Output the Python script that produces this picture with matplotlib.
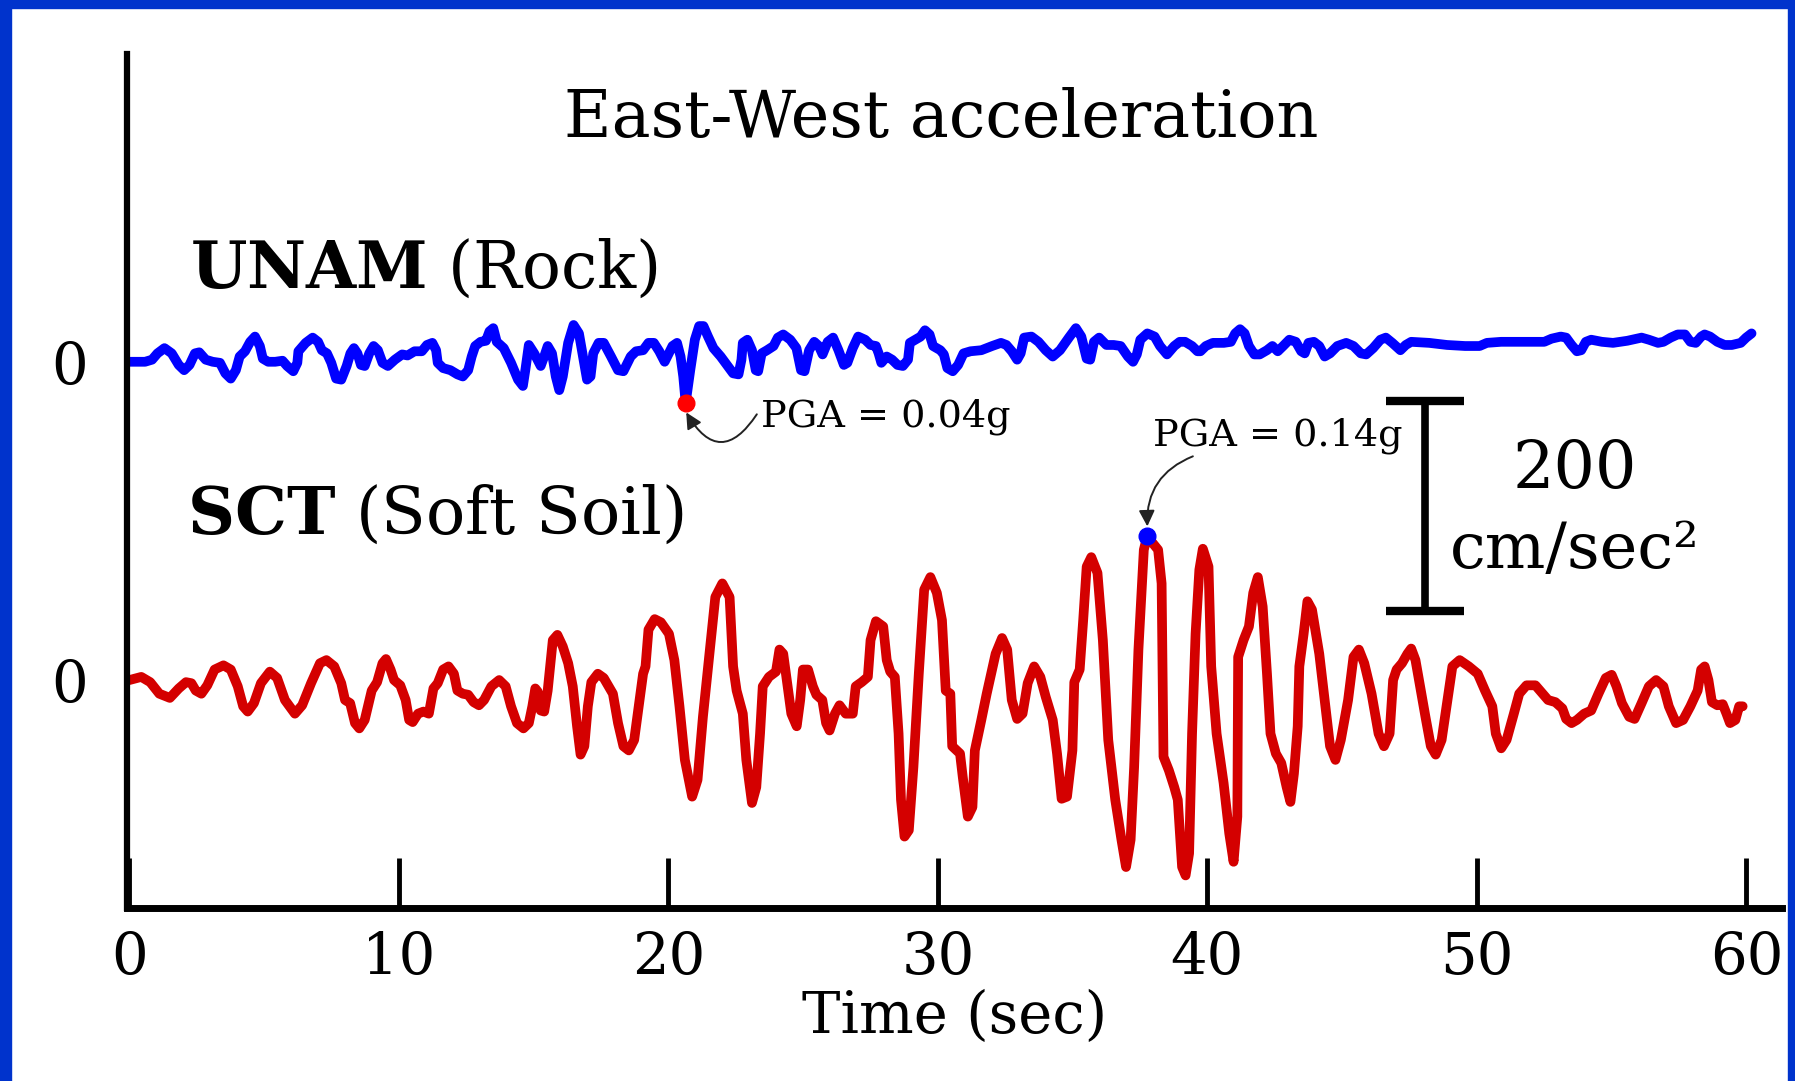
import numpy as np
import matplotlib.pyplot as plt
from matplotlib.patches import Rectangle

plt.rcParams['font.family'] = 'DejaVu Serif'
plt.rcParams['mathtext.fontset'] = 'dejavuserif'

G = 981.0          # cm/sec^2 per g
ROCK_SHIFT = 303   # vertical offset of the UNAM trace, cm/sec^2
SCALE_BAR = 200    # cm/sec^2

# UNAM (rock) east-west acceleration: time (sec), acceleration (cm/sec^2)
rock_t = [0.0, 0.58, 0.84, 1.04, 1.30, 1.57, 1.83, 2.03, 2.23, 2.43,
          2.59, 2.83, 3.09, 3.36, 3.56, 3.76, 3.95, 4.09, 4.29, 4.48,
          4.66, 4.84, 4.95, 5.15, 5.41, 5.68, 5.85, 6.08, 6.23, 6.27,
          6.54, 6.80, 7.00, 7.14, 7.33, 7.49, 7.67, 7.86, 8.06, 8.20,
          8.33, 8.46, 8.59, 8.73, 8.90, 9.06, 9.22, 9.39, 9.59, 9.85,
          10.12, 10.32, 10.58, 10.85, 11.04, 11.24, 11.38, 11.44, 11.64, 11.91,
          12.17, 12.37, 12.57, 12.70, 12.83, 13.03, 13.23, 13.36, 13.50, 13.63,
          13.89, 14.16, 14.42, 14.60, 14.69, 14.82, 15.02, 15.26, 15.39, 15.52,
          15.68, 15.82, 15.95, 16.08, 16.28, 16.48, 16.68, 16.85, 16.98, 17.11,
          17.21, 17.41, 17.60, 17.87, 18.13, 18.33, 18.60, 18.80, 19.06, 19.26,
          19.46, 19.66, 19.86,
          20.15, 20.32, 20.45, 20.55, 20.64, 20.81, 20.98, 21.14, 21.30, 21.47,
          21.67, 21.94, 22.20, 22.40, 22.60, 22.71, 22.76, 22.93, 23.10, 23.24,
          23.33, 23.46, 23.66, 23.90, 24.06, 24.26, 24.52, 24.75, 24.92, 25.05,
          25.22, 25.41, 25.58, 25.72, 25.91, 26.11, 26.31, 26.51, 26.64, 26.84,
          27.04, 27.30, 27.50, 27.70, 27.80, 27.90, 28.10, 28.30, 28.50, 28.70,
          28.89, 28.96, 29.16, 29.36, 29.52, 29.69, 29.82, 30.09, 30.22, 30.35,
          30.55, 30.75, 30.95, 31.21, 31.61, 32.01, 32.34, 32.54, 32.74, 32.94,
          33.07, 33.20, 33.47, 33.73, 34.00, 34.26, 34.53, 34.86, 35.12, 35.32,
          35.52, 35.65, 35.79, 35.98, 36.25, 36.52, 36.78, 37.05, 37.24, 37.38,
          37.51, 37.77, 38.04, 38.24, 38.50, 38.77, 38.97, 39.17, 39.43, 39.63,
          39.74, 39.94, 40.20, 40.61, 40.87, 41.03, 41.21, 41.38, 41.54, 41.74,
          41.94, 42.21, 42.41, 42.61, 42.81, 43.04, 43.28, 43.48, 43.61, 43.75,
          43.95, 44.15, 44.35, 44.55, 44.82, 45.15, 45.42, 45.69, 45.89, 46.15,
          46.42, 46.62, 46.86, 47.16, 47.36, 47.56, 48.23, 48.89, 49.56, 50.10,
          50.37, 50.90, 51.57, 52.50, 52.77, 53.11, 53.31, 53.51, 53.71, 53.87,
          54.04, 54.24, 54.64, 55.05, 55.58, 56.11, 56.38, 56.72, 56.92, 57.19,
          57.45, 57.72, 57.92, 58.12, 58.32, 58.45, 58.65, 58.92, 59.19, 59.46,
          59.79, 59.99, 60.19]
rock_acc = [0, 0, 2, 8, 13, 8, -3, -8, -3, 8,
            9, 2, 0, -1, -11, -16, -8, 5, 10, 19,
            24, 15, 3, 0, 0, 1, -4, -9, -1, 10,
            18, 23, 19, 11, 8, -1, -16, -17, -4, 8,
            13, 8, -3, -4, 8, 15, 11, -1, -4, 2,
            7, 6, 10, 10, 16, 18, 11, -1, -6, -8,
            -12, -14, -8, 5, 15, 19, 20, 29, 32, 19,
            13, -1, -17, -23, -8, 16, 8, -4, 5, 15,
            8, -14, -27, -14, 18, 35, 27, 2, -17, -14,
            8, 18, 18, 5, -8, -9, 5, 10, 11, 18,
            18, 10, 0,
            15, 18, 5, -14, -39.2, -8, 21, 34, 34, 24,
            13, 5, -4, -11, -12, 2, 18, 21, 11, -8,
            -9, 8, 11, 15, 23, 26, 21, 13, -8, -9,
            11, 19, 15, 7, 19, 23, 11, -3, -1, 13,
            24, 21, 16, 15, 8, -1, 5, 2, -3, -4,
            2, 18, 21, 24, 30, 26, 15, 11, 7, -6,
            -9, -3, 8, 10, 11, 15, 18, 16, 10, 2,
            8, 23, 24, 19, 11, 5, 11, 23, 32, 24,
            3, 2, 19, 23, 16, 16, 15, 5, 0, 7,
            21, 27, 24, 15, 7, 15, 19, 19, 15, 10,
            10, 15, 18, 18, 19, 27, 31, 27, 15, 7,
            7, 11, 15, 10, 15, 21, 19, 10, 8, 18,
            19, 15, 5, 8, 15, 18, 15, 8, 7, 13,
            21, 23, 18, 11, 16, 19, 18, 16, 15, 15,
            18, 19, 19, 19, 22, 24, 23, 16, 10, 11,
            19, 21, 19, 18, 20, 23, 21, 18, 19, 23,
            26, 26, 19, 18, 24, 26, 24, 19, 16, 16,
            18, 23, 27]

# SCT (soft soil) east-west acceleration: time (sec), acceleration (cm/sec^2)
soil_t = [0.0, 0.44, 0.77, 1.11, 1.50, 1.83, 2.10, 2.30, 2.46, 2.67,
          2.89, 3.16, 3.49, 3.76, 4.02, 4.22, 4.39, 4.62, 4.88, 5.21,
          5.48, 5.77, 6.14, 6.41, 6.74, 7.07, 7.31, 7.60, 7.86, 8.00,
          8.19, 8.37, 8.53, 8.73, 8.99, 9.19, 9.39, 9.52, 9.69, 9.82,
          10.05, 10.25, 10.38, 10.51, 10.71, 10.91, 11.11, 11.28, 11.44, 11.64,
          11.84, 12.04, 12.17, 12.37, 12.57, 12.77, 12.97, 13.16, 13.43, 13.72,
          13.96, 14.16, 14.38, 14.62, 14.82, 14.95, 15.06, 15.15, 15.26, 15.39,
          15.52, 15.71, 15.88, 16.08, 16.28, 16.45, 16.61, 16.74, 16.88, 17.01,
          17.14, 17.38, 17.60, 17.94, 18.13, 18.33, 18.53, 18.73, 18.93, 19.06,
          19.15, 19.26, 19.49, 19.72,
          20.02, 20.22, 20.41, 20.61, 20.88, 21.08, 21.28, 21.54, 21.74, 22.00,
          22.27, 22.40, 22.53, 22.76, 22.89, 23.10, 23.26, 23.40, 23.50, 23.73,
          23.99, 24.12, 24.26, 24.39, 24.56, 24.76, 24.89, 24.99, 25.18, 25.36,
          25.49, 25.71, 25.85, 25.98, 26.18, 26.35, 26.58, 26.84, 26.95, 27.17,
          27.40, 27.50, 27.70, 27.97, 28.10, 28.23, 28.40, 28.54, 28.63, 28.76,
          28.92, 29.09, 29.29, 29.49, 29.72, 29.96, 30.15, 30.29, 30.46, 30.53,
          30.82, 30.92, 31.11, 31.28, 31.37, 31.61, 31.81, 32.14, 32.38, 32.57,
          32.74, 32.94, 33.14, 33.33, 33.57, 33.80, 34.00, 34.26, 34.42, 34.59,
          34.79, 34.99, 35.06, 35.26, 35.39, 35.52, 35.69, 35.92, 36.12, 36.32,
          36.58, 36.81, 36.98, 37.15, 37.28, 37.44, 37.64, 37.77, 37.95, 38.17,
          38.30, 38.37, 38.57, 38.77, 38.90, 39.06, 39.19, 39.32, 39.43, 39.56,
          39.70, 39.83,
          40.04, 40.14, 40.34, 40.60, 40.81, 40.97, 41.11, 41.14, 41.34, 41.54,
          41.70, 41.87, 42.05, 42.21, 42.34, 42.54, 42.74, 42.94, 43.08, 43.21,
          43.35, 43.41, 43.57, 43.71, 43.88, 44.15, 44.35, 44.55, 44.75, 44.95,
          45.22, 45.42, 45.62, 45.82, 46.09, 46.35, 46.55, 46.76, 46.89, 47.02,
          47.22, 47.42, 47.56, 47.72, 47.89, 48.09, 48.29, 48.47, 48.69, 48.89,
          49.09, 49.36, 49.70, 50.03, 50.30, 50.57, 50.70, 50.90, 51.10, 51.37,
          51.57, 51.84, 52.17, 52.44, 52.64, 52.91, 53.17, 53.31, 53.51, 53.71,
          53.98, 54.24, 54.51, 54.78, 55.00, 55.18, 55.38, 55.65, 55.85, 56.11,
          56.38, 56.65, 56.92, 57.12, 57.39, 57.65, 57.92, 58.19, 58.32, 58.45,
          58.59, 58.72, 58.92, 59.12, 59.26, 59.39, 59.59, 59.73, 59.86]
soil_acc = [0, 3, -2, -13, -17, -8, -2, -3, -10, -13,
            -5, 10, 14, 10, -6, -25, -30, -22, -3, 8,
            2, -19, -32, -24, -3, 16, 19, 13, -3, -19,
            -22, -41, -46, -38, -10, -2, 16, 20, 10, 0,
            -5, -19, -38, -40, -32, -30, -32, -8, -3, 10,
            13, 6, -10, -13, -14, -21, -24, -19, -6, 0,
            -6, -25, -41, -46, -41, -25, -8, -11, -29, -30,
            -10, 38, 43, 32, 16, -6, -44, -71, -63, -25,
            -2, 6, 2, -13, -41, -63, -67, -57, -19, 6,
            13, 48, 58, 55,
            44, 19, -25, -76, -111, -95, -35, 29, 79, 92,
            79, 13, -10, -32, -76, -117, -102, -51, -6, 3,
            8, 29, 25, 0, -32, -44, -19, 10, 10, -6,
            -14, -19, -41, -48, -32, -24, -32, -32, -6, -2,
            3, 38, 56, 51, 19, 8, 3, -51, -114, -149,
            -143, -83, 6, 86, 98, 83, 57, -10, -13, -63,
            -70, -92, -130, -121, -67, -38, -13, 25, 40, 29,
            -19, -37, -32, -3, 13, 3, -16, -38, -70, -113,
            -111, -67, -2, 10, 57, 108, 117, 102, 38, -57,
            -114, -152, -178, -152, -83, 29, 124, 137.3, 131, 124,
            92, -73, -86, -102, -114, -178, -186, -165, -51, 44,
            105, 125,
            108, 13, -51, -98, -146, -173, -130, 22, 38, 51,
            83, 98, 70, 6, -51, -70, -79, -102, -116, -89,
            -44, 13, 44, 75, 67, 25, -19, -63, -76, -57,
            -19, 22, 29, 16, -13, -51, -63, -51, 0, 10,
            16, 25, 30, 19, -6, -35, -63, -71, -57, -22,
            13, 19, 13, 6, -10, -25, -51, -65, -57, -32,
            -13, -5, -5, -13, -19, -21, -27, -37, -41, -38,
            -32, -29, -13, 2, 5, -6, -22, -35, -37, -22,
            -6, 0, -6, -25, -41, -38, -25, -10, 10, 13,
            0, -21, -24, -23, -32, -41, -38, -25, -25]

rock_pga = 0.04
soil_pga = 0.14
xticks = [0, 10, 20, 30, 40, 50, 60]

rock_t = np.array(rock_t)
rock_acc = np.array(rock_acc)
soil_t = np.array(soil_t)
soil_acc = np.array(soil_acc)

W, H = 1795, 1081
fig = plt.figure(figsize=(W / 100, H / 100), dpi=100)
fig.patch.set_facecolor('white')

# blue frame around the slide
frame = '#0033cc'
fig.add_artist(Rectangle((0, 0), 11 / W, 1, transform=fig.transFigure, color=frame))
fig.add_artist(Rectangle((0, 1 - 8 / H), 1, 8 / H, transform=fig.transFigure, color=frame))
fig.add_artist(Rectangle((1 - 7 / W, 0), 7 / W, 1, transform=fig.transFigure, color=frame))

ax = fig.add_axes([127 / W, 173 / H, 1655 / W, 854 / H])
ax.set_xlim(-0.09, 61.32)
ax.set_ylim(-217, 596)

ax.plot(rock_t, rock_acc + ROCK_SHIFT, color='#0000ff', lw=7,
        solid_joinstyle='round', solid_capstyle='round')
ax.plot(soil_t, soil_acc, color='#d40000', lw=7,
        solid_joinstyle='round', solid_capstyle='round')

# PGA markers
i_r = np.argmin(rock_acc)
i_s = np.argmax(soil_acc)
ax.plot(rock_t[i_r], rock_acc[i_r] + ROCK_SHIFT, 'o', color='#ff0000', ms=12, zorder=5)
ax.plot(soil_t[i_s], soil_acc[i_s], 'o', color='#0000ff', ms=12, zorder=5)

ax.text(23.45, 241, f'PGA = {rock_pga:.2f}g', fontsize=27.5, va='baseline')
ax.annotate('', xy=(rock_t[i_r] + 0.02, rock_acc[i_r] + ROCK_SHIFT - 9),
            xytext=(23.28, 253),
            arrowprops=dict(arrowstyle='-|>', color='#222222', lw=1.4,
                            mutation_scale=24, shrinkA=0, shrinkB=0,
                            connectionstyle='arc3,rad=-0.8'))

ax.text(37.98, 223, f'PGA = {soil_pga:.2f}g', fontsize=27.5, va='baseline')
ax.annotate('', xy=(soil_t[i_s], soil_acc[i_s] + 9),
            xytext=(39.46, 213),
            arrowprops=dict(arrowstyle='-|>', color='#222222', lw=1.4,
                            mutation_scale=24, shrinkA=0, shrinkB=0,
                            connectionstyle='arc3,rad=0.35'))

# 200 cm/sec^2 scale bar
bar_t, bar_lo = 48.07, 66
ax.errorbar([bar_t], [bar_lo + SCALE_BAR / 2], yerr=SCALE_BAR / 2, fmt='none',
            ecolor='black', elinewidth=5.5, capsize=28, capthick=6)
ax.text(53.64, 183, f'{SCALE_BAR}', fontsize=47, ha='center', va='baseline')
ax.text(53.64, 107, 'cm/sec²', fontsize=46, ha='center', va='baseline')

# station labels and heading
ax.text(2.25, 373, r'$\mathbf{UNAM}$ (Rock)', fontsize=46.5, va='baseline')
ax.text(2.13, 139, r'$\mathbf{SCT}$ (Soft Soil)', fontsize=47, va='baseline')
ax.text(0.492, 0.903, 'East-West acceleration', transform=ax.transAxes,
        fontsize=47, ha='center', va='baseline')

ax.spines['top'].set_visible(False)
ax.spines['right'].set_visible(False)
ax.spines['left'].set_linewidth(4.5)
ax.spines['bottom'].set_linewidth(5)

ax.set_xticks(xticks)
ax.set_xticklabels([str(x) for x in xticks])
ax.tick_params(axis='x', direction='in', length=36, width=3.5, labelsize=41.5, pad=16)
ax.set_yticks([0, ROCK_SHIFT])
ax.set_yticklabels(['0', '0'])
ax.tick_params(axis='y', length=0, labelsize=41.5, pad=28)
ax.set_xlabel('Time (sec)', fontsize=41.5, labelpad=2)

fig.savefig('out.png', dpi=100)
